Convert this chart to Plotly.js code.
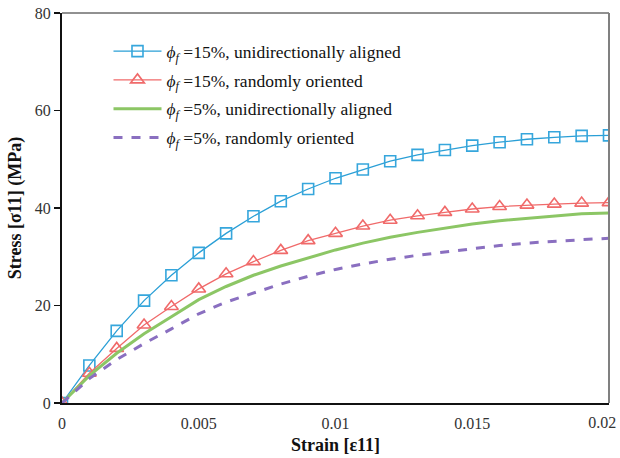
<!DOCTYPE html>
<html>
<head>
<meta charset="utf-8">
<script src="https://cdn.plot.ly/plotly-3.0.1.min.js"></script>
<style>html,body{margin:0;padding:0;background:#fff;}</style>
</head>
<body>
<div id="chart" style="width:620px;height:458px;"></div>
<script>
const strain = [0,0.001,0.002,0.003,0.004,0.005,0.006,0.007,0.008,0.009,0.010,0.011,0.012,0.013,0.014,0.015,0.016,0.017,0.018,0.019,0.020];
const uni15 = [0,7.7,14.8,21.0,26.2,30.8,34.8,38.3,41.4,43.9,46.1,47.9,49.6,50.9,51.9,52.8,53.5,54.1,54.5,54.8,54.9];
const rand15 = [0,6.1,11.2,16.0,19.8,23.4,26.5,29.0,31.3,33.3,34.8,36.3,37.5,38.4,39.1,39.8,40.3,40.6,40.8,41.0,41.1];
const uni5 = [0,5.6,10.2,14.2,17.7,21.2,23.9,26.2,28.1,29.8,31.4,32.8,34.0,35.0,35.9,36.7,37.4,37.9,38.4,38.8,39.0];
const rand5 = [0,5.0,8.9,12.2,15.2,18.3,20.7,22.6,24.4,26.0,27.4,28.5,29.5,30.3,31.0,31.7,32.3,32.8,33.2,33.5,33.8];
const names = [
  "<i>ϕ</i><sub><i>f</i></sub> =15%, unidirectionally aligned",
  "<i>ϕ</i><sub><i>f</i></sub> =15%, randomly oriented",
  "<i>ϕ</i><sub><i>f</i></sub> =5%, unidirectionally aligned",
  "<i>ϕ</i><sub><i>f</i></sub> =5%, randomly oriented"
];
const xTicks = [0,0.005,0.01,0.015];
const xTickText = ["0","0.005","0.01","0.015"];
const xEndTick = [0.02];
const xEndTickText = ["0.02"];
const yTicks = [0,20,40,60,80];

const serif = "Liberation Serif, Times New Roman, serif";

const traces = [
  {x: strain, y: uni15, name: names[0], legendgroup:"a", mode:"lines+markers",
   line:{color:"#2a9fd6", width:1.3},
   marker:{symbol:"square-open", size:11, color:"#36a6dc", line:{width:1.6}}},
  {x: strain, y: rand15, name: names[1], legendgroup:"b", mode:"lines+markers",
   line:{color:"#f06a6a", width:1.3},
   marker:{symbol:"triangle-up-open", size:12, color:"#f06a6a", line:{width:1.6}}},
  {x: strain, y: uni5, name: names[2], legendgroup:"c", mode:"lines",
   line:{color:"#8cc665", width:3}},
  {x: strain, y: rand5, name: names[3], legendgroup:"d", mode:"lines",
   line:{color:"#8a6fc0", width:3, dash:"dash"}},
  {x: [], y: [], xaxis:"x2", yaxis:"y", mode:"lines", showlegend:false, hoverinfo:"skip"}
];

const layout = {
  width:620, height:458,
  margin:{l:62, r:11, t:13, b:55},
  paper_bgcolor:"#fff", plot_bgcolor:"#fff",
  font:{family:serif, color:"#222", size:16},
  showlegend:true,
  legend:{x:0.085, y:0.948, xanchor:"left", yanchor:"top", bgcolor:"rgba(0,0,0,0)",
    font:{family:serif, size:17.5, color:"#111"}, traceorder:"grouped", tracegroupgap:3, itemwidth:48},
  xaxis:{range:[0,0.02], tickvals:xTicks, ticktext:xTickText, showgrid:false, zeroline:false,
    showline:true, linecolor:"#111", linewidth:2, ticks:"outside", ticklen:5, tickcolor:"rgba(0,0,0,0)",
    tickfont:{family:serif, size:16, color:"#333"},
    title:{text:"<b>Strain [ε11]</b>", font:{family:serif, size:18, color:"#111"}, standoff:7}},
  xaxis2:{range:[0,0.0201], overlaying:"x", anchor:"y", side:"bottom", tickvals:xEndTick, ticktext:xEndTickText,
    showgrid:false, zeroline:false, showline:false, ticks:"outside", ticklen:5, tickcolor:"rgba(0,0,0,0)",
    ticklabelshift:-4, ticklabeloverflow:"allow",
    tickfont:{family:serif, size:16, color:"#333"}},
  yaxis:{range:[0,80], tickvals:yTicks, showgrid:false, zeroline:false,
    showline:true, linecolor:"#111", linewidth:2, ticks:"outside", ticklen:6, tickwidth:1.5, tickcolor:"#111",
    tickfont:{family:serif, size:16, color:"#333"},
    title:{text:"<b>Stress [σ11] (MPa)</b>", font:{family:serif, size:18, color:"#111"}, standoff:8}},
  shapes:[
    {type:"line", xref:"paper", yref:"paper", x0:0, x1:1, y0:1, y1:1, line:{color:"#222", width:1}},
    {type:"line", xref:"paper", yref:"paper", x0:1, x1:1, y0:0, y1:1, line:{color:"#808080", width:2}}
  ]
};
Plotly.newPlot("chart", traces, layout, {displayModeBar:false, staticPlot:true});
</script>
</body>
</html>
